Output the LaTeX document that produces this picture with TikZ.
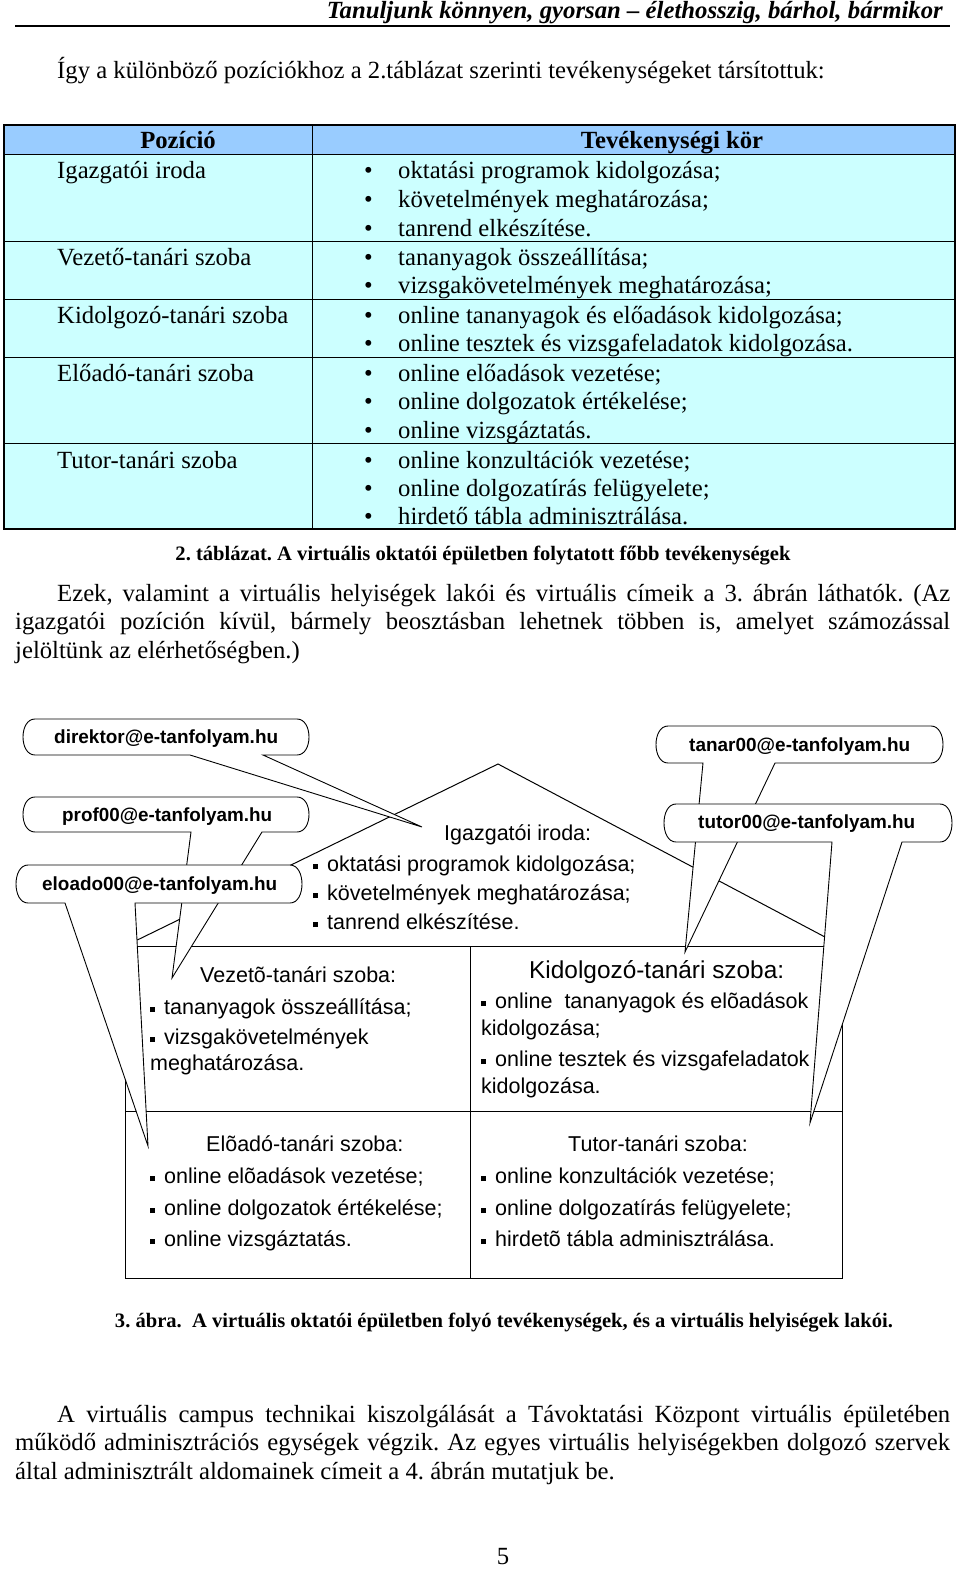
\documentclass[tikz,border=0pt]{standalone}
\usepackage{graphicx}
\usepackage{fontspec}
\setmainfont{Liberation Serif}
\newfontfamily\arialfont{Liberation Sans}
\frenchspacing
\definecolor{hdrblue}{RGB}{153,204,255}
\definecolor{cellcyan}{RGB}{204,255,255}
\newcommand\sqb{\raisebox{2pt}{\rule{5pt}{5pt}}\hspace{9pt}}
\newcommand\fitw[2]{\resizebox{#1pt}{\height}{#2}}
% callout: box (left,top,right,bottom) (tail x1,tail x2) (tip x,tip y)
\def\callout(#1,#2,#3,#4)(#5,#6)(#7,#8){%
  \filldraw[callout] (#5,#4) -- (#7,#8) -- (#6,#4) -- ({#3-12},#4)
    .. controls ({#3+4},#4) and ({#3+4},#2) .. ({#3-12},#2)
    -- ({#1+12},#2)
    .. controls ({#1-4},#2) and ({#1-4},#4) .. ({#1+12},#4) -- cycle;}
\begin{document}
\begin{tikzpicture}[x=1pt,y=-1pt,
  body/.style={inner sep=0pt,anchor=base west,font=\fontsize{24.7}{28}\selectfont},
  ttl/.style={inner sep=0pt,anchor=base,font=\fontsize{24.7}{28}\selectfont\bfseries},
  capt/.style={inner sep=0pt,anchor=base,font=\fontsize{20.5}{24}\selectfont\bfseries},
  fig/.style={inner sep=0pt,anchor=base west,font=\arialfont\fontsize{21.5}{25}\selectfont},
  figbig/.style={fig,font=\arialfont\fontsize{24.4}{28}\selectfont},
  mail/.style={inner sep=0pt,anchor=base west,font=\arialfont\bfseries\fontsize{19}{22}\selectfont},
  tline/.style={line width=1pt},
  tframe/.style={line width=1.4pt},
  wall/.style={line width=1pt},
  callout/.style={fill=white,draw=black,line width=0.9pt,line join=miter}]
\useasboundingbox[fill=white] (0,0) rectangle (960,1571);

% ---------- running header
\node[inner sep=0pt,anchor=base east,font=\fontsize{24.7}{28}\selectfont\bfseries\itshape] (hdr) at (943,19)
  {\fitw{616}{Tanuljunk könnyen, gyorsan – élethosszig, bárhol, bármikor}};
\draw[line width=1.3pt] (15,26) -- (950,26);

\node[body] (intro) at (57,78) {Így a különböző pozíciókhoz a 2.táblázat szerinti tevékenységeket társítottuk:};

% ---------- table
\fill[hdrblue] (4,125) rectangle (955,154);
\fill[cellcyan] (4,154) rectangle (955,529);
\foreach \yy in {154,241,299,357,443} \draw[tline] (4,\yy) -- (955,\yy);
\draw[tline] (312,125) -- (312,529);
\draw[tframe] (4,125) rectangle (955,529);

\node[ttl] (hpos) at (178,148) {Pozíció};
\node[ttl] (hact) at (672,148) {Tevékenységi kör};
\node[body] (p1) at (57,178) {Igazgatói iroda};
\node[body] (p2) at (57,265) {Vezető-tanári szoba};
\node[body] (p3) at (57,323) {Kidolgozó-tanári szoba};
\node[body] (p4) at (57,381) {Előadó-tanári szoba};
\node[body] (p5) at (57,468) {Tutor-tanári szoba};
\foreach \yy/\tt in {178/{oktatási programok kidolgozása;},
  207/{követelmények meghatározása;},
  236/{tanrend elkészítése.},
  265/{tananyagok összeállítása;},
  293/{vizsgakövetelmények meghatározása;},
  323/{online tananyagok és előadások kidolgozása;},
  351/{online tesztek és vizsgafeladatok kidolgozása.},
  381/{online előadások vezetése;},
  409/{online dolgozatok értékelése;},
  438/{online vizsgáztatás.},
  468/{online konzultációk vezetése;},
  496/{online dolgozatírás felügyelete;},
  524/{hirdető tábla adminisztrálása.}}{
  \node[body] (b\yy) at (364,\yy) {\textbullet};
  \node[body] (a\yy) at (398,\yy) {\tt};
}

\node[capt] (cap2) at (483,560)
  {\fitw{615}{2. táblázat. A virtuális oktatói épületben folytatott főbb tevékenységek}};

\node[body] (par1) at (57,601) {\makebox[893pt][s]{Ezek, valamint a virtuális helyiségek lakói és virtuális címeik a 3. ábrán láthatók. (Az}};
\node[body] (par2) at (15,629) {\makebox[935pt][s]{igazgatói pozíción kívül, bármely beosztásban lehetnek többen is, amelyet számozással}};
\node[body] (par3) at (15,658) {jelöltünk az elérhetőségben.)};

% ---------- figure: building
\draw[wall] (125,946) -- (498,764) -- (842,946);
\draw[wall] (125,946) rectangle (842,1278);
\draw[wall] (125,1111) -- (842,1111);
\draw[wall] (470,946) -- (470,1278);

% ---------- callouts
\callout(23,719,309,755)(190,263)(422,827)
\callout(656,726,943,763)(703,775)(685,952)
\callout(23,797,309,832)(191,262)(172,978)
\callout(664,804,952,842)(832,902)(810,1123)
\callout(16,865,302,903)(65,135)(148,1146)

\node[mail] (m1) at (54,743) {\fitw{224}{direktor@e-tanfolyam.hu}};
\node[mail] (m2) at (689,751) {\fitw{221}{tanar00@e-tanfolyam.hu}};
\node[mail] (m3) at (62,821) {\fitw{210}{prof00@e-tanfolyam.hu}};
\node[mail] (m4) at (698,828) {\fitw{217}{tutor00@e-tanfolyam.hu}};
\node[mail] (m5) at (42,890) {\fitw{235}{eloado00@e-tanfolyam.hu}};

% ---------- figure texts
\node[fig] (ig) at (444,840) {Igazgatói iroda:};
\node[fig] (ig1) at (313,871) {\sqb oktatási programok kidolgozása;};
\node[fig] (ig2) at (313,900) {\sqb követelmények meghatározása;};
\node[fig] (ig3) at (313,929) {\sqb tanrend elkészítése.};

\node[fig] (v0) at (200,982) {Vezetõ-tanári szoba:};
\node[fig] (v1) at (150,1014) {\sqb tananyagok összeállítása;};
\node[fig] (v2) at (150,1044) {\sqb vizsgakövetelmények};
\node[fig] (v3) at (150,1070) {meghatározása.};

\node[figbig] (k0) at (529,978) {Kidolgozó-tanári szoba:};
\node[fig] (k1) at (481,1008) {\sqb online\ \ tananyagok és elõadások};
\node[fig] (k2) at (481,1035) {kidolgozása;};
\node[fig] (k3) at (481,1066) {\sqb online tesztek és vizsgafeladatok};
\node[fig] (k4) at (481,1093) {kidolgozása.};

\node[fig] (e0) at (206,1151) {Elõadó-tanári szoba:};
\node[fig] (e1) at (150,1183) {\sqb online elõadások vezetése;};
\node[fig] (e2) at (150,1215) {\sqb online dolgozatok értékelése;};
\node[fig] (e3) at (150,1246) {\sqb online vizsgáztatás.};

\node[fig] (t0) at (568,1151) {Tutor-tanári szoba:};
\node[fig] (t1) at (481,1183) {\sqb online konzultációk vezetése;};
\node[fig] (t2) at (481,1215) {\sqb online dolgozatírás felügyelete;};
\node[fig] (t3) at (481,1246) {\sqb hirdetõ tábla adminisztrálása.};

\node[capt] (cap3) at (504,1327)
  {\fitw{778}{3. ábra.\ \ A virtuális oktatói épületben folyó tevékenységek, és a virtuális helyiségek lakói.}};

% ---------- closing paragraph
\node[body] (q1) at (57,1422) {\makebox[893pt][s]{A virtuális campus technikai kiszolgálását a Távoktatási Központ virtuális épületében}};
\node[body] (q2) at (15,1450) {\makebox[935pt][s]{működő adminisztrációs egységek végzik. Az egyes virtuális helyiségekben dolgozó szervek}};
\node[body] (q3) at (15,1479) {által adminisztrált aldomainek címeit a 4. ábrán mutatjuk be.};

\node[body,anchor=base] (pg) at (503,1564) {5};
\end{tikzpicture}
\end{document}
